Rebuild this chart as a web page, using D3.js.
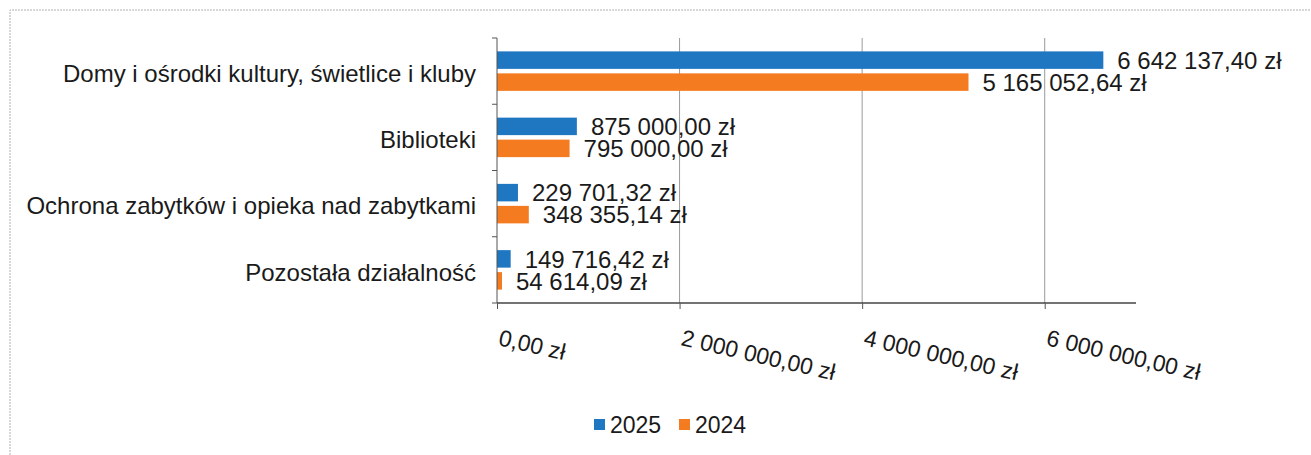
<!DOCTYPE html>
<html>
<head>
<meta charset="utf-8">
<script src="https://cdn.jsdelivr.net/npm/d3@7"></script>
<style>
  body { margin: 0; background: #fff; }
  text { font-family: "Liberation Sans", Arial, sans-serif; fill: #1a1a1a; }
</style>
</head>
<body>
<svg width="1311" height="455"></svg>
<script>
var svg = d3.select('svg');

// data
var categories = ['Domy i ośrodki kultury, świetlice i kluby', 'Biblioteki',
  'Ochrona zabytków i opieka nad zabytkami', 'Pozostała działalność'];
var seriesNames = ['2025', '2024'];
var values2025 = [6642137.40, 875000.00, 229701.32, 149716.42];
var values2024 = [5165052.64, 795000.00, 348355.14, 54614.09];
var xTicks = [0, 2000000, 4000000, 6000000];
var colors = ['#1f77c2', '#f47b20'];

var rows = categories.map(function(c, i) {
  return { cat: c, vals: [values2025[i], values2024[i]] };
});

// polish money format: "6 642 137,40 zł"
function zl(v) {
  var s = v.toFixed(2).split('.');
  var int = s[0].replace(/\B(?=(\d{3})+(?!\d))/g, ' ');
  return int + ',' + s[1] + ' zł';
}

var plotL = 497, plotR = 1136, plotT = 38, plotB = 303;

var x = d3.scaleLinear().domain([0, 7000000]).range([plotL, plotR]);
var y = d3.scaleBand().domain(categories).range([plotT, plotB]);

// outer frame (scan border)
svg.append('path')
  .attr('d', 'M10,455 L10,10 L1311,10')
  .attr('fill', 'none')
  .attr('stroke', '#b0b0b0')
  .attr('stroke-width', 1)
  .attr('stroke-dasharray', '2,1');

// gridlines
svg.append('g').selectAll('line')
  .data(xTicks.slice(1))
  .enter().append('line')
  .attr('x1', function(d) { return x(d); })
  .attr('x2', function(d) { return x(d); })
  .attr('y1', plotT).attr('y2', plotB)
  .attr('stroke', '#9a9a9a')
  .attr('stroke-width', 1);

// bars
var barH = 17.5, gap = 4.5;
var groups = svg.append('g').selectAll('g')
  .data(rows)
  .enter().append('g')
  .attr('transform', function(d) {
    return 'translate(0,' + (y(d.cat) + y.bandwidth() / 2 - barH - gap / 2) + ')';
  });

groups.selectAll('rect')
  .data(function(d) { return d.vals; })
  .enter().append('rect')
  .attr('x', x(0))
  .attr('y', function(d, i) { return i * (barH + gap); })
  .attr('width', function(d) { return x(d) - x(0); })
  .attr('height', barH)
  .attr('fill', function(d, i) { return colors[i]; });

groups.selectAll('text')
  .data(function(d) { return d.vals; })
  .enter().append('text')
  .attr('x', function(d) { return x(d) + 14; })
  .attr('y', function(d, i) { return i * (barH + gap) + barH / 2; })
  .attr('dy', '0.36em')
  .style('font-size', '24px')
  .text(function(d) { return zl(d); });

// y axis
var yAxis = svg.append('g')
  .attr('transform', 'translate(' + plotL + ',0)');
yAxis.append('line')
  .attr('y1', plotT).attr('y2', plotB)
  .attr('stroke', '#555');
yAxis.selectAll('.tk')
  .data(d3.range(categories.length + 1))
  .enter().append('line')
  .attr('x1', -5).attr('x2', 0)
  .attr('y1', function(i) { return plotT + i * y.step(); })
  .attr('y2', function(i) { return plotT + i * y.step(); })
  .attr('stroke', '#555');

svg.append('g').selectAll('text')
  .data(categories)
  .enter().append('text')
  .attr('x', plotL - 21)
  .attr('y', function(d) { return y(d) + y.bandwidth() / 2 + 2; })
  .attr('dy', '0.36em')
  .attr('text-anchor', 'end')
  .style('font-size', '24px')
  .text(function(d) { return d; });

// x axis
var xAxis = svg.append('g')
  .attr('transform', 'translate(0,' + plotB + ')')
  .call(d3.axisBottom(x).tickValues(xTicks).tickSize(6).tickFormat(zl));
xAxis.select('.domain').attr('stroke', '#444').attr('stroke-width', 1.5)
  .attr('d', 'M' + plotL + ',0H' + plotR);
xAxis.selectAll('.tick line').attr('stroke', '#555');
xAxis.selectAll('.tick text')
  .style('font-size', '23px')
  .attr('text-anchor', 'start')
  .attr('fill', '#1a1a1a')
  .attr('x', 0).attr('y', 0).attr('dy', 0)
  .attr('transform', 'translate(0,42) rotate(13)');

// legend
var legend = svg.append('g').attr('transform', 'translate(594,419)');
var li = legend.selectAll('g')
  .data(seriesNames)
  .enter().append('g')
  .attr('transform', function(d, i) { return 'translate(' + (i * 85) + ',0)'; });
li.append('rect')
  .attr('width', 11).attr('height', 11)
  .attr('fill', function(d, i) { return colors[i]; });
li.append('text')
  .attr('x', 16).attr('y', 14)
  .style('font-size', '23px')
  .text(function(d) { return d; });
</script>
</body>
</html>
